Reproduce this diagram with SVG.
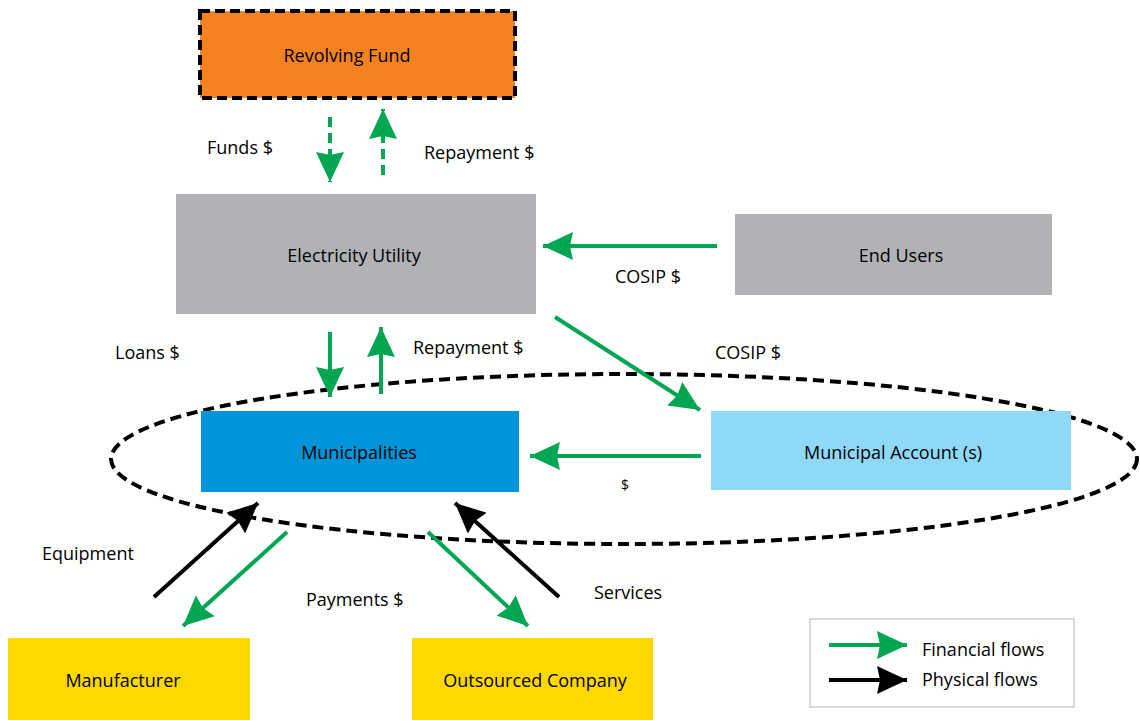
<svg xmlns="http://www.w3.org/2000/svg" width="1140" height="721" viewBox="0 0 1140 721">
<defs>
<marker id="hg" viewBox="0 0 30 28" refX="30" refY="14" markerWidth="30" markerHeight="28" markerUnits="userSpaceOnUse" orient="auto"><path d="M0,0 L30,14 L0,28 L3,14 Z" fill="#00A651"/></marker>
<marker id="hk" viewBox="0 0 30 28" refX="30" refY="14" markerWidth="30" markerHeight="28" markerUnits="userSpaceOnUse" orient="auto"><path d="M0,0 L30,14 L0,28 L3,14 Z" fill="#000"/></marker>
</defs>
<style>
text{font-family:"Open Sans","Noto Sans",sans-serif;font-size:18px;font-weight:500;fill:#000}
.c{text-anchor:middle}
.g{stroke:#00A651;stroke-width:4;fill:none}
.k{stroke:#000;stroke-width:4;fill:none}
.d{stroke-dasharray:10 6}
</style>
<rect width="1140" height="721" fill="#fff"/>
<ellipse cx="624" cy="459" rx="513" ry="85" fill="none" stroke="#000" stroke-width="4" stroke-dasharray="11 6"/>
<g id="revolving-fund"><rect x="200" y="11" width="315" height="87" fill="#F58220" stroke="#000" stroke-width="4" stroke-dasharray="10 5"/><text class="c" x="347" y="62">Revolving Fund</text></g>
<g id="electricity-utility"><rect x="176" y="194" width="360" height="120" fill="#B1B2B5"/><text class="c" x="354" y="262">Electricity Utility</text></g>
<g id="end-users"><rect x="735" y="214" width="317" height="81" fill="#B1B2B5"/><text class="c" x="901" y="262">End Users</text></g>
<g id="municipalities"><rect x="201" y="411" width="318" height="81" fill="#0095DA"/><text class="c" x="359" y="459">Municipalities</text></g>
<g id="municipal-account"><rect x="711" y="411" width="360" height="79" fill="#8ED8F8"/><text class="c" x="893" y="459">Municipal Account (s)</text></g>
<g id="manufacturer"><rect x="8" y="638" width="242" height="82" fill="#FFD800"/><text class="c" x="123" y="687">Manufacturer</text></g>
<g id="outsourced-company"><rect x="412" y="638" width="241" height="82" fill="#FFD800"/><text class="c" x="535" y="687">Outsourced Company</text></g>
<g id="connectors">
<line class="g d" x1="330" y1="117" x2="330" y2="182" marker-end="url(#hg)"/>
<line class="g d" x1="383" y1="175" x2="383" y2="109" marker-end="url(#hg)"/>
<line class="g" x1="717" y1="246" x2="543" y2="246" marker-end="url(#hg)"/>
<line class="g" x1="330" y1="332" x2="330" y2="397" marker-end="url(#hg)"/>
<line class="g" x1="381" y1="394" x2="381" y2="327" marker-end="url(#hg)"/>
<line class="g" x1="555" y1="317" x2="700" y2="410" marker-end="url(#hg)"/>
<line class="g" x1="701" y1="456" x2="530" y2="456" marker-end="url(#hg)"/>
<line class="k" x1="154" y1="597" x2="258" y2="503" marker-end="url(#hk)"/>
<line class="g" x1="287" y1="532" x2="183" y2="626" marker-end="url(#hg)"/>
<line class="g" x1="428" y1="532" x2="528" y2="626" marker-end="url(#hg)"/>
<line class="k" x1="559" y1="597" x2="455" y2="503" marker-end="url(#hk)"/>
</g>
<g id="labels">
<text x="207" y="154">Funds $</text>
<text x="424" y="159">Repayment $</text>
<text x="615" y="283">COSIP $</text>
<text x="115" y="359">Loans $</text>
<text x="413" y="354">Repayment $</text>
<text x="715" y="359">COSIP $</text>
<text x="621" y="490" style="font-size:14px">$</text>
<text x="42" y="560">Equipment</text>
<text x="306" y="606">Payments $</text>
<text x="594" y="599">Services</text>
</g>
<g id="legend">
<rect x="810" y="619" width="264" height="88" fill="#fff" stroke="#ccc" stroke-width="1.5"/>
<line class="g" x1="829" y1="645" x2="907" y2="645" marker-end="url(#hg)"/>
<line class="k" x1="829" y1="680" x2="907" y2="680" marker-end="url(#hk)"/>
<text x="922" y="656">Financial flows</text>
<text x="922" y="686">Physical flows</text>
</g>
</svg>
